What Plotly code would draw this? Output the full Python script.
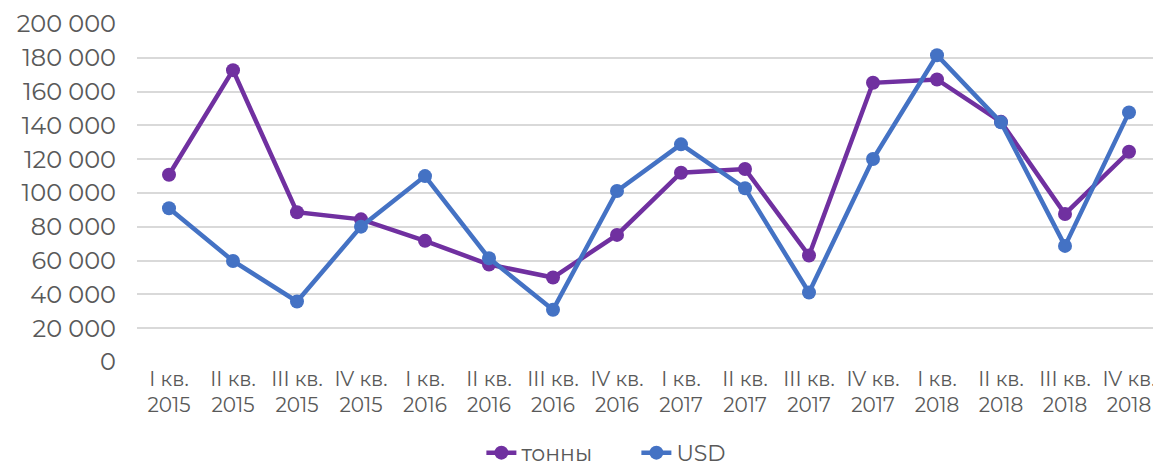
import plotly.graph_objects as go

categories = ["I кв.<br>2015", "II кв.<br>2015", "III кв.<br>2015", "IV кв.<br>2015",
              "I кв.<br>2016", "II кв.<br>2016", "III кв.<br>2016", "IV кв.<br>2016",
              "I кв.<br>2017", "II кв.<br>2017", "III кв.<br>2017", "IV кв.<br>2017",
              "I кв.<br>2018", "II кв.<br>2018", "III кв.<br>2018", "IV кв.<br>2018"]
tonnes = [110800, 172700, 88600, 84400, 71700, 57700, 50000, 75200,
          112000, 114200, 63000, 165200, 167200, 142100, 87600, 124400]
usd = [91000, 59800, 35800, 80100, 110000, 61400, 30900, 101200,
       128800, 102800, 41100, 120100, 181500, 141800, 68700, 147700]
y_ticks = list(range(0, 200001, 20000))

fig = go.Figure()
fig.add_trace(go.Scatter(x=categories, y=tonnes, name="тонны", mode="lines+markers",
                         line=dict(color="#7030A0", width=4.5),
                         marker=dict(color="#7030A0", size=14)))
fig.add_trace(go.Scatter(x=categories, y=usd, name="USD", mode="lines+markers",
                         line=dict(color="#4472C4", width=4.5),
                         marker=dict(color="#4472C4", size=14)))

font_color = "#595959"
fig.update_layout(
    width=1153, height=461,
    margin=dict(l=129, r=0, t=16, b=107, autoexpand=False),
    paper_bgcolor="white", plot_bgcolor="white",
    separators=". ",
    font=dict(family="Montserrat, Lato, 'Open Sans', sans-serif", size=20, color=font_color),
    showlegend=True,
    legend=dict(orientation="h", x=0.545, xanchor="center", xref="container",
                y=0.035, yanchor="middle", yref="container",
                font=dict(size=22, color=font_color), tracegroupgap=0,
                entrywidth=110, entrywidthmode="pixels"),
    xaxis=dict(type="category", range=[-0.5, 15.5], showgrid=False, zeroline=False,
               showline=False, ticks="", tickfont=dict(size=20, color=font_color),
               ticklabelstandoff=3, automargin=False),
    yaxis=dict(range=[0, 200000], tickvals=y_ticks, tickformat=",d", showgrid=True,
               gridcolor="#d9d9d9", gridwidth=1.5, zeroline=False, showline=False,
               ticks="", tickfont=dict(size=24, color=font_color), ticklabelstandoff=20,
               automargin=False),
)

fig.write_html("out.html")
